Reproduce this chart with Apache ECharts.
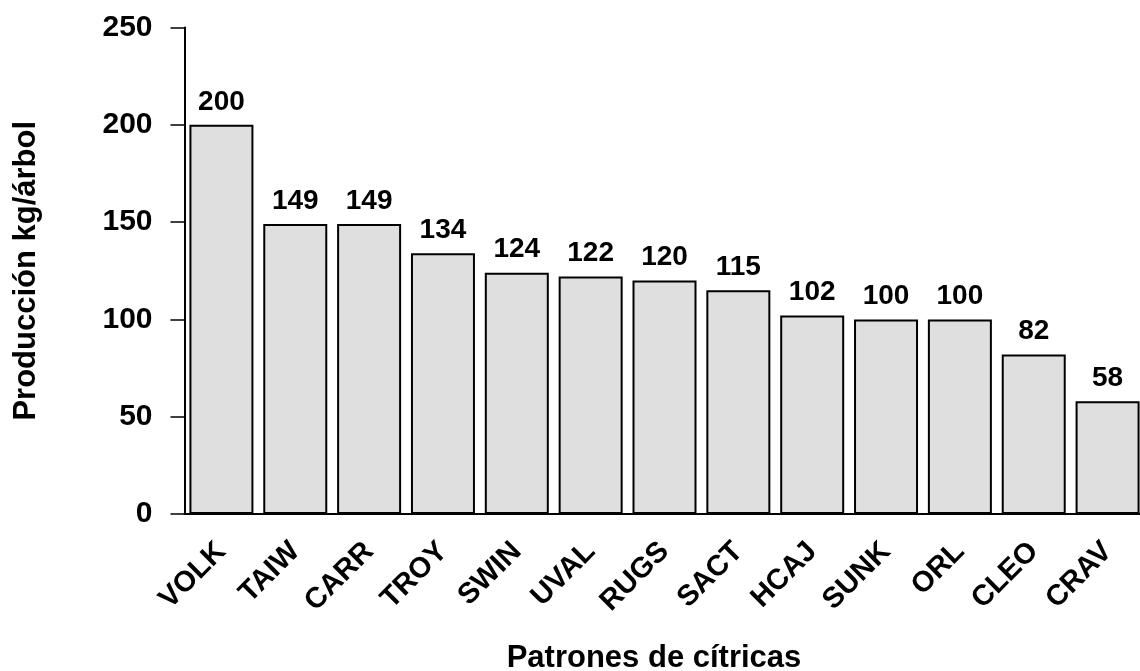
<!DOCTYPE html>
<html>
<head>
<meta charset="utf-8">
<script src="https://cdn.jsdelivr.net/npm/echarts@6/dist/echarts.min.js"></script>
<style>
  html, body { margin: 0; padding: 0; background: #fff; }
  #chart { width: 1140px; height: 671px; }
</style>
</head>
<body>
<div id="chart"></div>
<script>
const categories = ['VOLK', 'TAIW', 'CARR', 'TROY', 'SWIN', 'UVAL', 'RUGS', 'SACT', 'HCAJ', 'SUNK', 'ORL', 'CLEO', 'CRAV']
const produccion = [200, 149, 149, 134, 124, 122, 120, 115, 102, 100, 100, 82, 58]

const yMin = 0
const yMax = 250
const yStep = 50

const font = 'Liberation Sans, Arial, sans-serif'

const chart = echarts.init(document.getElementById('chart'))

chart.setOption({
  animation: false,
  grid: { left: 184.5, top: 27.5, width: 960, bottom: 157, outerBoundsMode: 'none', containLabel: false },
  xAxis: {
    type: 'category',
    data: categories,
    name: 'Patrones de cítricas',
    nameLocation: 'middle',
    nameGap: 129,
    nameTextStyle: { fontFamily: font, fontSize: 31, fontWeight: 'bold', color: '#000', padding: [0, 21, 0, 0] },
    axisLine: { lineStyle: { color: '#000', width: 2 } },
    axisTick: { alignWithLabel: true, length: 13, lineStyle: { color: '#000', width: 1.5 } },
    axisLabel: { rotate: 45, margin: 33, fontFamily: font, fontSize: 29, fontWeight: 'bold', color: '#000', interval: 0 }
  },
  yAxis: {
    type: 'value',
    min: yMin,
    max: yMax,
    interval: yStep,
    name: 'Producción kg/árbol',
    nameLocation: 'middle',
    nameGap: 143,
    nameTextStyle: { fontFamily: font, fontSize: 31, fontWeight: 'bold', color: '#000' },
    axisLine: { show: true, lineStyle: { color: '#000', width: 2 } },
    axisTick: { show: true, length: 14, lineStyle: { color: '#000', width: 1.5 } },
    splitLine: { show: false },
    axisLabel: { margin: 32, fontFamily: font, fontSize: 30, fontWeight: 'bold', color: '#000' }
  },
  series: [
    {
      type: 'bar',
      data: produccion,
      barWidth: 64,
      itemStyle: { color: '#dfdfdf', borderColor: '#000', borderWidth: 2 },
      label: {
        show: true,
        position: 'top',
        distance: 9,
        fontFamily: font,
        fontSize: 28,
        fontWeight: 'bold',
        color: '#000'
      }
    }
  ]
})
</script>
</body>
</html>
